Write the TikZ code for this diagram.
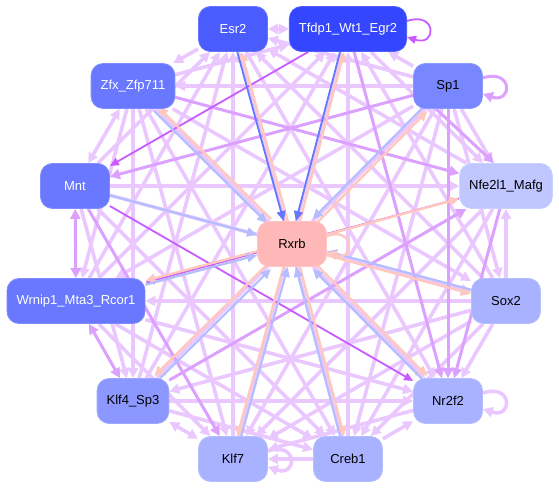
\documentclass[tikz,border=0pt]{standalone}
\usepackage{fontspec}
\setmainfont{Liberation Sans}
\usetikzlibrary{arrows.meta,backgrounds}
\definecolor{lav}{RGB}{234,200,255}
\definecolor{midp}{RGB}{220,160,255}
\definecolor{vivp}{RGB}{200,90,255}
\definecolor{pk}{RGB}{255,200,190}
\definecolor{bl}{RGB}{180,190,255}
\definecolor{bd}{RGB}{100,120,255}
\definecolor{cE}{RGB}{75,92,255}
\definecolor{cT}{RGB}{52,70,255}
\definecolor{cS}{RGB}{120,135,255}
\definecolor{cZ}{RGB}{105,120,255}
\definecolor{cN}{RGB}{192,198,255}
\definecolor{cL}{RGB}{168,178,255}
\definecolor{cK}{RGB}{140,152,255}
\definecolor{cR}{RGB}{255,184,184}
\tikzset{
  gn/.style={rounded corners=12pt, minimum width=69pt, minimum height=45pt,
    inner xsep=9.5pt, font=\fontsize{13}{15}\selectfont},
  dk/.style={gn, fill=#1, draw=#1!85!white, line width=0.8pt, text=white},
  lg/.style={gn, fill=#1, draw=#1!85!white, line width=0.8pt, text=black},
  lt/.style={draw=lav, line width=3.6pt, >={Triangle[length=10pt,width=10pt]}, ->},
  md/.style={draw=midp, line width=3pt, >={Triangle[length=10pt,width=10pt]}, ->},
  vv/.style={draw=vivp, line width=1.8pt, >={Triangle[length=9pt,width=8pt]}, ->},
  pe/.style={draw=pk, line width=2.4pt, >={Triangle[length=10pt,width=9pt]}, ->},
  be/.style={draw=bl, line width=2.2pt, >={Triangle[length=10pt,width=9pt]}, ->},
  bde/.style={draw=bd, line width=1.8pt, >={Triangle[length=10pt,width=9pt]}, ->},
}
\begin{document}
\begin{tikzpicture}[x=1pt,y=-1pt]
\useasboundingbox (0,0) rectangle (559,489);
\node[dk=cE] (E) at (233,29) {Esr2};
\node[dk=cT] (T) at (348,29) {Tfdp1\_Wt1\_Egr2};
\node[lg=cS] (S) at (448,86) {Sp1};
\node[dk=cZ] (Z) at (133,86) {Zfx\_Zfp711};
\node[dk=cZ] (M) at (75,186) {Mnt};
\node[dk=cZ] (W) at (76,301) {Wrnip1\_Mta3\_Rcor1};
\node[lg=cN] (N) at (506,186) {Nfe2l1\_Mafg};
\node[lg=cL] (X) at (506,301) {Sox2};
\node[lg=cK] (K4) at (133,401) {Klf4\_Sp3};
\node[lg=cL] (R2) at (448,401) {Nr2f2};
\node[lg=cL] (K7) at (233,459) {Klf7};
\node[lg=cL] (C) at (348,459) {Creb1};
\node[lg=cR] (R) at (292,244) {Rxrb};
\begin{pgfonlayer}{background}
% light edges
\draw[lt,<->] (E) -- (T);
\draw[lt] (S) -- (E);
\draw[lt] (E) -- (Z);
\draw[lt] (M) -- (E);
\draw[lt] (W) -- (E);
\draw[lt] (N) -- (E);
\draw[lt] (X) -- (E);
\draw[lt] (K4) -- (E);
\draw[lt] (E) -- (R2);
\draw[lt] (K7) -- (E);
\draw[lt] (C) -- (E);
\draw[lt] (S) -- (T);
\draw[lt] (Z) -- (T);
\draw[lt] (W) -- (T);
\draw[lt] (T) -- (N);
\draw[lt] (X) -- (T);
\draw[lt] (K4) -- (T);
\draw[lt] (K7) -- (T);
\draw[lt] (C) -- (T);
\draw[lt] (S) -- (Z);
\draw[lt] (S) -- (W);
\draw[lt] (S) -- (N);
\draw[lt] (S) -- (X);
\draw[lt] (S) -- (K4);
\draw[lt] (S) -- (K7);
\draw[lt] (S) -- (C);
\draw[lt,<->] (Z) -- (M);
\draw[lt] (Z) -- (W);
\draw[lt] (Z) -- (X);
\draw[lt] (Z) -- (K4);
\draw[lt] (Z) -- (R2);
\draw[lt] (Z) -- (K7);
\draw[lt] (Z) -- (C);
\draw[lt] (M) -- (N);
\draw[lt] (M) -- (X);
\draw[lt] (M) -- (K4);
\draw[lt] (M) -- (C);
\draw[lt] (X) -- (W);
\draw[lt] (W) -- (R2);
\draw[lt] (W) -- (K7);
\draw[lt] (W) -- (C);
\draw[lt] (X) -- (N);
\draw[lt] (N) -- (K7);
\draw[lt] (N) -- (C);
\draw[lt] (X) -- (K4);
\draw[lt] (X) -- (R2);
\draw[lt] (X) -- (K7);
\draw[lt] (X) -- (C);
\draw[lt] (K4) -- (R2);
\draw[lt,<->] (K4) -- (K7);
\draw[lt] (K4) -- (C);
\draw[lt] (R2) -- (K7);
\draw[lt] (C) -- (R2);
\draw[lt] (C) -- (K7);
\draw[lt] ([shift={(0,-8)}]R2.east) .. controls +(30,-10) and +(30,10) .. ([shift={(0,8)}]R2.east);
\draw[lt] ([shift={(0,-8)}]K7.east) .. controls +(30,-10) and +(30,10) .. ([shift={(0,8)}]K7.east);
% medium edges
\draw[md] (T) -- (R2);
\draw[md] (S) -- (M);
\draw[md] ([shift={(-12,0)}]S.south) -- ([shift={(-12,0)}]N.north);
\draw[md] (S) -- (R2);
\draw[md] (Z) -- (N);
\draw[md,<->] (M) -- (W);
\draw[md] (M) -- (K7);
\draw[md,<->] (W) -- (K4);
\draw[md] (K4) -- (N);
\draw[md] (N) -- (R2);
\draw[md] ([shift={(0,-8)}]S.east) .. controls +(30,-10) and +(30,10) .. ([shift={(0,8)}]S.east);
% vivid edges
\draw[vv] (T) -- (M);
\draw[vv] (M) -- (R2);
\draw[vv] (N) -- (W);
\draw[vv] ([shift={(0,-8)}]T.east) .. controls +(30,-10) and +(30,10) .. ([shift={(0,8)}]T.east);
% Rxrb edges
\draw[pe,transform canvas={shift={(2,0)}}] (R) -- (E);
\draw[bde,transform canvas={shift={(-2,0)}}] (E) -- (R);
\draw[pe,transform canvas={shift={(2,0)}}] (R) -- (T);
\draw[bde,transform canvas={shift={(-2,0)}}] (T) -- (R);
\draw[pe,transform canvas={shift={(2,2)}}] (R) -- (S);
\draw[be,transform canvas={shift={(-2,-2)}}] (S) -- (R);
\draw[pe,transform canvas={shift={(2,-2)}}] (R) -- (Z);
\draw[be,transform canvas={shift={(-2,2)}}] (Z) -- (R);
\draw[be] (M) -- (R);
\draw[pe] (R) -- (N);
\draw[pe,transform canvas={shift={(0,2)}}] (R) -- (X);
\draw[be,transform canvas={shift={(0,-2)}}] (X) -- (R);
\draw[pe,transform canvas={shift={(0,-2)}}] (R) -- (W);
\draw[be,transform canvas={shift={(0,2)}}] (W) -- (R);
\draw[pe,transform canvas={shift={(-2,-2)}}] (R) -- (K4);
\draw[be,transform canvas={shift={(2,2)}}] (K4) -- (R);
\draw[pe,transform canvas={shift={(-2,0)}}] (R) -- (K7);
\draw[be,transform canvas={shift={(2,0)}}] (K7) -- (R);
\draw[pe,transform canvas={shift={(2,0)}}] (R) -- (C);
\draw[be,transform canvas={shift={(-2,0)}}] (C) -- (R);
\draw[pe,transform canvas={shift={(2,-2)}}] (R) -- (R2);
\draw[be,transform canvas={shift={(-2,2)}}] (R2) -- (R);
\draw[pe] ([shift={(0,-8)}]R.east) .. controls +(28,-10) and +(28,10) .. ([shift={(0,8)}]R.east);
\end{pgfonlayer}
\end{tikzpicture}
\end{document}
